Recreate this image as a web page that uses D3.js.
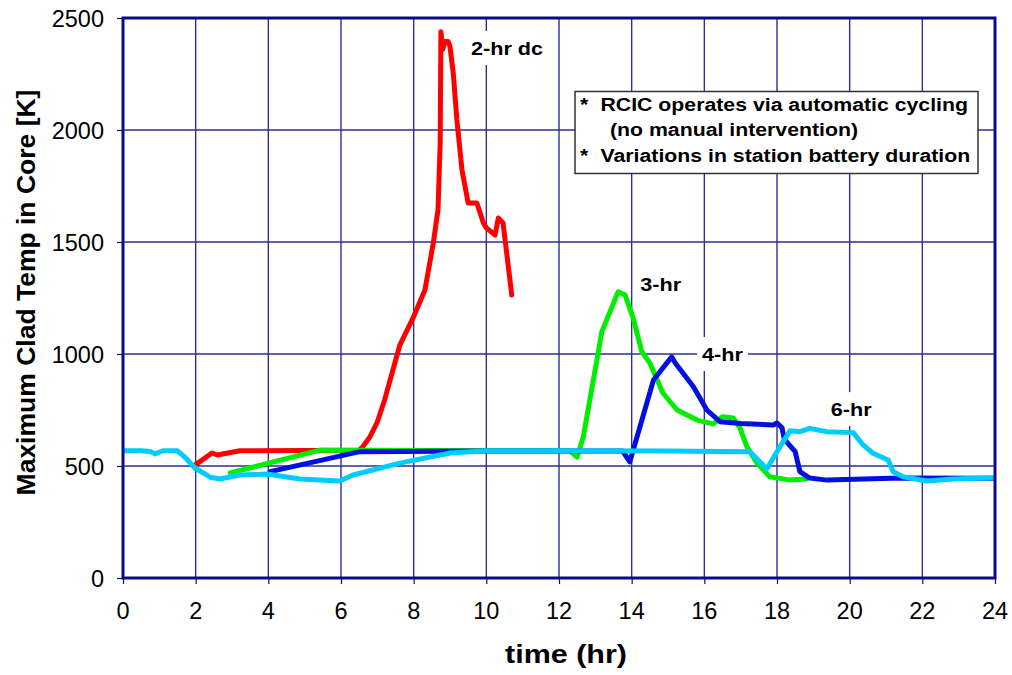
<!DOCTYPE html>
<html><head><meta charset="utf-8">
<script src="https://cdn.jsdelivr.net/npm/d3@7"></script>
<style>body{margin:0;background:#fff}svg{display:block}text{font-family:"Liberation Sans",Arial,sans-serif}</style>
</head><body>
<svg id="c" width="1012" height="675"></svg>
<script>
// ---- data ----
const xTicks = [0,2,4,6,8,10,12,14,16,18,20,22,24];
const yTicks = [0,500,1000,1500,2000,2500];
const seriesNames = ["2-hr dc","3-hr","4-hr","6-hr"];
const seriesColors = ["#ff0000","#00ee00","#0010e0","#00ccff"];
const labelTime = [10.57,14.8,16.5,20.04];
const labelTemp = [2366,1312,1000,754];

const hr2Time = [1.98,2.45,2.6,3.22,6.5,6.6,6.8,6.99,7.2,7.62,7.98,8.31,8.54,8.67,8.73,8.75,8.8,8.86,8.95,9.0,9.09,9.19,9.33,9.5,9.74,9.92,10.0,10.24,10.33,10.46,10.7];
const hr2Temp = [504,558,549,568,570,586,631,692,795,1040,1160,1286,1495,1643,1942,2439,2360,2395,2395,2372,2254,2045,1821,1674,1674,1585,1563,1531,1607,1585,1263];

const hr3Time = [2.95,5.42,10,12.3,12.5,12.67,13.18,13.63,13.82,14.04,14.28,14.5,14.86,15.25,15.8,16.24,16.5,16.8,16.98,17.17,17.45,17.8,18.36,18.8];
const hr3Temp = [469,571,568,568,540,631,1100,1278,1263,1161,1010,960,826,750,705,688,720,714,670,586,513,452,437,442];

const hr4Time = [4.05,6.52,10,13.75,13.95,14.6,15.1,15.2,15.7,16.07,16.43,17.0,17.9,18.0,18.14,18.2,18.5,18.63,18.9,19.38,21.4,24];
const hr4Temp = [475,564,567,567,519,884,987,960,854,750,698,690,683,692,670,620,564,475,446,437,446,445];

const hr6Time = [0,0.5,0.75,0.88,1.1,1.5,1.7,1.98,2.4,2.67,3.2,3.96,4.87,5.97,6.33,7.62,9.0,10.0,12.0,15.0,17.26,17.72,18.08,18.36,18.63,18.9,19.38,20.1,20.37,20.64,21.06,21.2,21.47,22.13,22.85,24];
const hr6Temp = [568,568,565,554,568,568,540,491,450,442,460,464,442,433,460,513,558,568,568,567,564,487,586,657,653,668,653,649,594,557,527,474,452,433,442,448];

const noteLines = ["RCIC operates via automatic cycling","(no manual intervention)","Variations in station battery duration"];

// ---- chart ----
const svg = d3.select("#c");
const L=123,R=995,T=18,B=578;
const x = d3.scaleLinear().domain([0,24]).range([L,R]);
const y = d3.scaleLinear().domain([0,2500]).range([B,T]);
const SX = 1.15;
const grid = "#2e2e96", frame = "#0c0c80";

// grid
svg.append("g").selectAll("line").data(xTicks.slice(1,-1)).join("line")
  .attr("x1",d=>x(d)).attr("x2",d=>x(d)).attr("y1",T).attr("y2",B)
  .attr("stroke",grid).attr("stroke-width",1.4);
svg.append("g").selectAll("line").data(yTicks.slice(1,-1)).join("line")
  .attr("y1",d=>y(d)).attr("y2",d=>y(d)).attr("x1",L).attr("x2",R)
  .attr("stroke",grid).attr("stroke-width",1.4);

// axes
const xa = svg.append("g").attr("transform",`translate(0,${B})`)
  .call(d3.axisBottom(x).tickValues(xTicks).tickSize(6).tickFormat(""));
const ya = svg.append("g").attr("transform",`translate(${L},0)`)
  .call(d3.axisLeft(y).tickValues(yTicks).tickSize(6).tickFormat(""));
[xa,ya].forEach(a=>{a.select(".domain").remove();a.selectAll("line").attr("stroke",frame).attr("stroke-width",1.2);});

// tick labels
xTicks.forEach(t=>{
  svg.append("text").attr("x",x(t)).attr("y",619)
    .attr("text-anchor","middle").attr("font-size",23.5).attr("fill","#000").text(t);
});
yTicks.forEach(t=>{
  svg.append("text").attr("x",104).attr("y",y(t)+8.5)
    .attr("text-anchor","end").attr("font-size",23.5).attr("fill","#000").text(t);
});

// axis titles
svg.append("text").attr("transform",`translate(566,663) scale(1.22,1)`)
  .attr("text-anchor","middle").attr("font-size",25).attr("font-weight","bold").text("time (hr)");
svg.append("text").attr("transform",`translate(35,292.5) rotate(-90)`)
  .attr("text-anchor","middle").attr("font-size",26.5).attr("font-weight","bold").text("Maximum Clad Temp in Core [K]");

// series
const line = d3.line().x(d=>x(d[0])).y(d=>y(d[1]));
const series = [[hr2Time,hr2Temp],[hr3Time,hr3Temp],[hr4Time,hr4Temp],[hr6Time,hr6Temp]];
svg.append("defs").append("clipPath").attr("id","clip").append("rect")
  .attr("x",L).attr("y",T).attr("width",R-L).attr("height",B-T);
series.forEach((s,i)=>{
  svg.append("path").datum(d3.zip(s[0],s[1])).attr("d",line)
    .attr("fill","none").attr("stroke",seriesColors[i]).attr("stroke-width",5)
    .attr("stroke-linejoin","round").attr("stroke-linecap","round").attr("clip-path","url(#clip)");
});

// frame
svg.append("rect").attr("x",L).attr("y",T).attr("width",R-L).attr("height",B-T)
  .attr("fill","none").attr("stroke",frame).attr("stroke-width",3);

// series labels
seriesNames.forEach((n,i)=>{
  const g = svg.append("g").attr("transform",`translate(${x(labelTime[i])},${y(labelTemp[i])})`);
  const t = g.append("text").attr("transform",`scale(1.17,1)`).attr("text-anchor","middle")
    .attr("dy","0.36em").attr("font-size",18.5).attr("font-weight","bold").text(n);
  const bb = t.node().getBBox();
  const w = bb.width*1.17;
  g.insert("rect","text").attr("x",-w/2-5).attr("y",-17).attr("width",w+10).attr("height",34).attr("fill","#fff");
});

// note box
svg.append("rect").attr("x",575).attr("y",91.5).attr("width",403).attr("height",82)
  .attr("fill","#fff").attr("stroke","#333").attr("stroke-width",1.5);
const noteY=[110.5,136,161.5];
const noteX=[600.5,610,600.5];
[0,2].forEach(i=>svg.append("text").attr("transform",`translate(580,${noteY[i]}) scale(${SX},1)`)
  .attr("font-size",18.5).attr("font-weight","bold").text("*"));
noteLines.forEach((s,i)=>svg.append("text").attr("transform",`translate(${noteX[i]},${noteY[i]}) scale(${SX},1)`)
  .attr("font-size",18.5).attr("font-weight","bold").text(s));
</script>
</body></html>
